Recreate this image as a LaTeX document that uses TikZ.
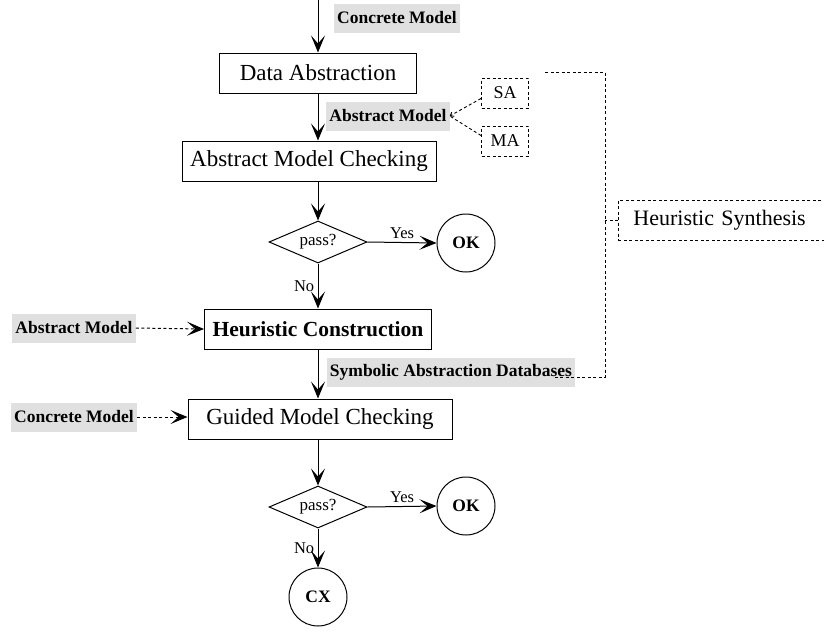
\documentclass[tikz,border=0pt]{standalone}
\usepackage{fontspec}
\setmainfont{Liberation Serif}
\usepackage{xcolor}
\usetikzlibrary{arrows.meta, shapes.geometric, positioning}
\definecolor{labelgray}{RGB}{224,224,224}
\tikzset{
  flow/.style = {line width=1pt, -{Stealth[length=17pt, width=14pt, inset=8pt]}},
  dflow/.style = {flow, dash pattern=on 3pt off 2.5pt},
  dline/.style = {line width=0.9pt, dash pattern=on 3pt off 2.5pt},
  procbox/.style = {draw, line width=1pt, minimum height=40pt, inner sep=2pt, font=\fontsize{23}{26}\selectfont},
  hintbox/.style = {draw, line width=0.9pt, dash pattern=on 3pt off 2.5pt, minimum width=47pt, minimum height=30pt, inner sep=1pt, font=\fontsize{18}{20}\selectfont},
  tag/.style = {fill=labelgray, inner sep=3pt, minimum height=29pt, font=\bfseries\fontsize{17.5}{20}\selectfont},
  decision/.style = {draw, line width=1pt, diamond, aspect=2.3, minimum width=98pt, minimum height=42pt, inner sep=0pt, font=\fontsize{17}{19}\selectfont},
  result/.style = {draw, line width=1pt, circle, minimum size=58pt, inner sep=0pt, font=\bfseries\fontsize{17.5}{20}\selectfont},
  branch/.style = {font=\fontsize{16.5}{19}\selectfont},
}
\begin{document}
\begin{tikzpicture}[x=1pt, y=-1pt]
  \useasboundingbox (0,0) rectangle (824,635);
  \clip (0,0) rectangle (824,635);

  \coordinate (topin) at (318,0);
  \node[tag] (cmtop) at (397,18) {Concrete Model};
  \node[procbox, minimum width=197pt] (da) at (318,73) {Data Abstraction};
  \node[tag] (am) at (388,116) {Abstract Model};
  \node[hintbox] (sa) at (505,93) {SA};
  \node[hintbox] (ma) at (505,141) {MA};
  \node[procbox, minimum width=254pt] (amc) at (309,161) {Abstract Model Checking};

  \node[decision] (pass1) at (318,242) {pass?};
  \node[result] (ok1) at (466,243) {OK};

  \node[procbox, minimum width=227pt, font=\bfseries\fontsize{21.5}{24}\selectfont] (hc) at (318,329) {Heuristic Construction};
  \node[tag] (amleft) at (74,328) {Abstract Model};
  \node[tag] (sad) at (451,372) {Symbolic Abstraction Databases};

  \node[procbox, minimum width=264pt] (gmc) at (320,419) {Guided Model Checking};
  \node[tag] (cmleft) at (74,417) {Concrete Model};

  \node[decision] (pass2) at (318,507) {pass?};
  \node[result] (ok2) at (466,506) {OK};
  \node[result] (cx) at (318,597) {CX};

  \node[procbox, dash pattern=on 3pt off 2.5pt, line width=0.9pt, anchor=west, minimum width=230pt, align=left, text width=200pt, font=\fontsize{22}{25}\selectfont] (hs) at (618,220) {Heuristic Synthesis};

  \begin{scope}
    \draw[flow] (topin) -- (da.north);
    \draw[flow] (da.south) -- (da.south |- amc.north);
    \draw[flow] (amc.south -| pass1.north) -- (pass1.north);
    \draw[flow] (pass1.east) -- node[branch, above] {Yes} (ok1.west);
    \draw[flow] (pass1.south) -- node[branch, left] {No} (hc.north);
    \draw[flow] (hc.south) -- (hc.south |- gmc.north);
    \draw[flow] (gmc.south -| pass2.north) -- (pass2.north);
    \draw[flow] (pass2.east) -- node[branch, above] {Yes} (ok2.west);
    \draw[flow] (pass2.south) -- node[branch, left] {No} (cx.north);
  \end{scope}

  \begin{scope}
    \draw[dflow] (amleft.east) -- (hc.west);
    \draw[dflow] (cmleft.east) -- (cmleft.east -| gmc.west);
    \draw[dline, -{Straight Barb[length=3pt, width=5pt]}] (sa.south west) ++(0,-10) -- (am.east);
    \draw[dline] (ma.north west) ++(0,10) -- (am.east);
  \end{scope}

  \begin{scope}
    \coordinate (brtop) at (545,72);
    \coordinate (brend) at (555,377);
    \draw[dline] (brtop) -- ++(60,0) coordinate (brright) |- (brend);
    \draw[dline] (hs.west) -- (hs.west -| brright);
  \end{scope}
\end{tikzpicture}
\end{document}
